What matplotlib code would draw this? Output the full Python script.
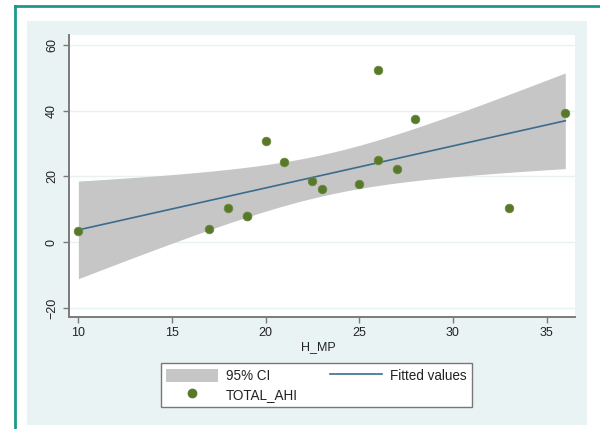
import numpy as np
import matplotlib
matplotlib.use("Agg")
import matplotlib.pyplot as plt
from matplotlib.patches import Rectangle, Patch
from matplotlib.lines import Line2D

plt.rcParams['font.family'] = ['Liberation Sans', 'DejaVu Sans']

# Data (the fitted line and its band imply one
# more observation hidden under the marker at (19, 8))
h_mp = [10, 17, 18, 19, 19, 20, 21, 22.5, 23, 25, 26, 26, 27, 28, 33, 36]
total_ahi = [3.4, 4.1, 10.3, 8.0, 8.0, 30.8, 24.5, 18.5, 16.3, 17.8, 52.4, 25.1, 22.3, 37.5, 10.5, 39.3]
x_ticks = [10, 15, 20, 25, 30, 35]
y_ticks = [-20, 0, 20, 40, 60]
t_crit = 2.1448  # t(0.975, df=14)

x = np.array(h_mp, dtype=float)
y = np.array(total_ahi, dtype=float)
n = len(x)
b1, b0 = np.polyfit(x, y, 1)
resid = y - (b0 + b1 * x)
s = np.sqrt(np.sum(resid ** 2) / (n - 2))
sxx = np.sum((x - x.mean()) ** 2)
xg = np.linspace(x.min(), x.max(), 200)
yg = b0 + b1 * xg
half = t_crit * s * np.sqrt(1.0 / n + (xg - x.mean()) ** 2 / sxx)

W, H = 600, 429
fig = plt.figure(figsize=(6, 4.29), dpi=100, facecolor='white')

# light background panel
fig.patches.append(Rectangle((27 / W, 1 - 425 / H), (587 - 27) / W, (425 - 21) / H,
                             transform=fig.transFigure, facecolor='#eaf3f3',
                             edgecolor='none', zorder=-5))
# teal frame lines
teal = '#1b998a'
fig.add_artist(Line2D([15 / W, 15 / W], [0, 1 - 5.5 / H], transform=fig.transFigure,
                      color=teal, lw=2))
fig.add_artist(Line2D([15 / W, 1], [1 - 5.5 / H, 1 - 5.5 / H], transform=fig.transFigure,
                      color=teal, lw=2))

ax = fig.add_axes([69 / W, 1 - 317 / H, (575 - 69) / W, (317 - 35) / H])
ax.set_zorder(2)
ax.set_facecolor('white')

ci = ax.fill_between(xg, yg - half, yg + half, color='#c6c6c6', lw=0, zorder=2)
line, = ax.plot(xg, yg, color='#3b6c8e', lw=1.2, zorder=3)
sc = ax.scatter(x, y, s=38, color='#58792b', edgecolors='#6a8a3a', linewidths=0.6, zorder=4)

ax.set_xlim(9.5, 36.52)
ax.set_ylim(-22.7, 63.0)
ax.set_xticks(x_ticks)
ax.set_yticks(y_ticks)
ax.grid(axis='y', color='#e9f1f1', lw=1, zorder=1)
ax.set_axisbelow(True)

for sp in ['top', 'right']:
    ax.spines[sp].set_visible(False)
for sp in ['left', 'bottom']:
    ax.spines[sp].set_color('#7a7a7a')
    ax.spines[sp].set_linewidth(1.4)

ax.tick_params(axis='both', colors='#7a7a7a', length=4, width=1, labelcolor='#222222',
               labelsize=9)
ax.tick_params(axis='x', pad=3)
ax.tick_params(axis='y', pad=4)
for lab in ax.get_yticklabels():
    lab.set_rotation(90)
    lab.set_va('center')

ax.set_xlabel('H_MP', fontsize=9, color='#222222')
ax.xaxis.set_label_coords(0.492, -0.108)
ax.xaxis.label.set_va('center')

handles = [Patch(facecolor='#c6c6c6', edgecolor='none'),
           Line2D([], [], ls='none', marker='o', markersize=6, color='#58792b'),
           Line2D([], [], color='#3b6c8e', lw=1.2)]
labels = ['95% CI', 'TOTAL_AHI', 'Fitted values']
leg = fig.legend(handles, labels, loc='center', bbox_to_anchor=(316.5 / W, 1 - 385.3 / H),
                 ncol=2, fontsize=9.75, frameon=True, fancybox=False,
                 edgecolor='#777777', facecolor='white', framealpha=1,
                 handlelength=3.8, handleheight=1.1, handletextpad=0.6,
                 columnspacing=2.4, labelspacing=0.35, borderpad=0.4)
leg.set_zorder(3)
leg.get_frame().set_linewidth(1.0)
for t in leg.get_texts():
    t.set_color('#222222')

fig.savefig('out.png', dpi=100, facecolor='white')
